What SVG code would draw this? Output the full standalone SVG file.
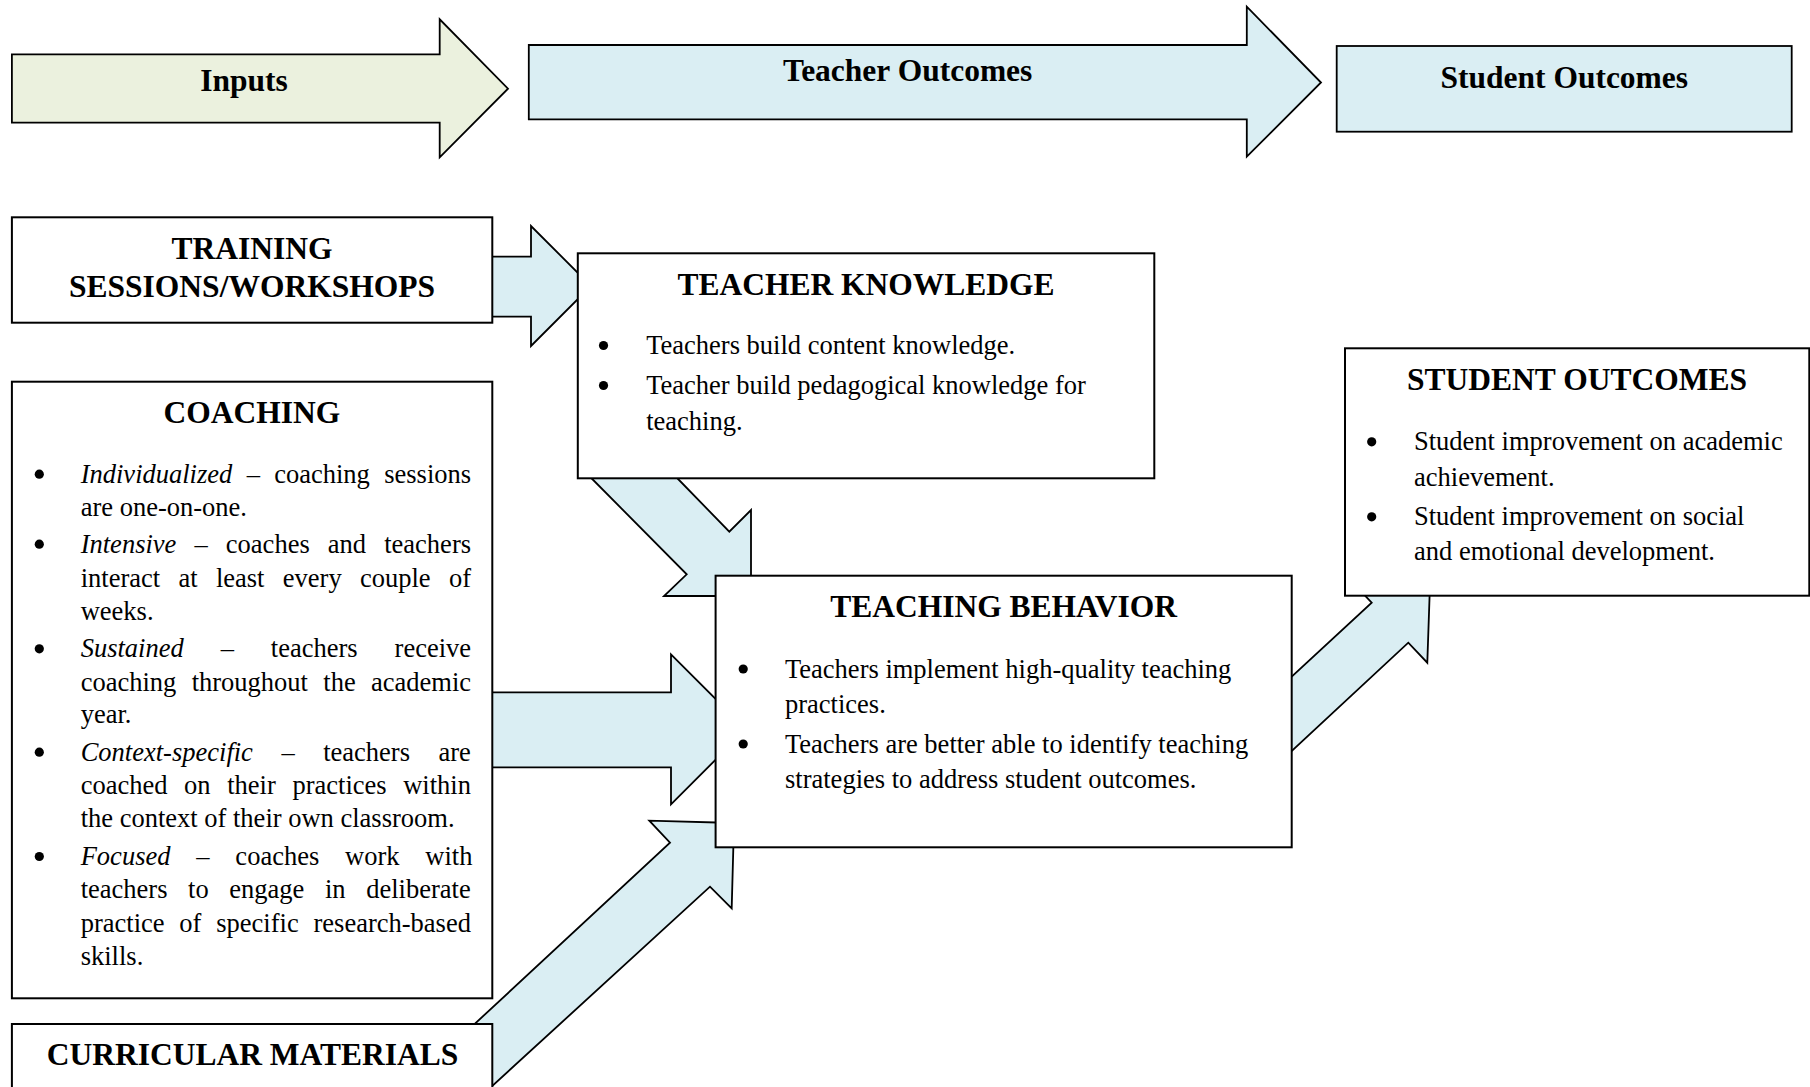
<svg xmlns="http://www.w3.org/2000/svg" width="1810" height="1087" viewBox="0 0 1810 1087">
<style>
.box{fill:#fff;stroke:#000;stroke-width:2}
.hdr{stroke:#000;stroke-width:1.8;stroke-linejoin:miter}
.green{fill:#EBF1DE}
.blue{fill:#DAEEF3}
.conn{fill:#DAEEF3;stroke:#000;stroke-width:1.8;stroke-linejoin:miter}
.t{font-family:"Liberation Serif","Times New Roman",serif;fill:#000}
.title{font-size:31.5px;font-weight:bold;text-anchor:middle}
.body{font-size:26.5px}
.it{font-style:italic}
.dot{fill:#000}
</style>
<defs>
<circle id="b" r="4.6" class="dot"/>
</defs>
<rect width="1810" height="1087" fill="#fff"/>

<g id="connectors">
<polygon class="conn" points="470,256.7 531,256.7 531,226 591,286 531,346 531,316.7 470,316.7"/>
<polygon class="conn" points="584.3,471 686.7,574.3 664,596 751,596 751,510 729.3,531.7 670.3,471"/>
<polygon class="conn" points="470,692.3 671,692.3 671,654.3 746,729.3 671,804.3 671,767.3 470,767.3"/>
<polygon class="conn" points="392.7,1100 670,842.7 649.3,820.7 734,823 731.7,908.3 710,886.7 476.9,1100"/>
<polygon class="conn" points="1271.7,695.2 1371.7,602.7 1352.7,582.7 1430,584 1427.3,662.7 1408.3,642.7 1271.7,769.6"/>
</g>

<g id="inputs-header">
<polygon class="hdr green" points="11.9,54.3 439.7,54.3 439.7,19.3 508,88.7 439.7,157.3 439.7,122.7 11.9,122.7"/>
<text class="t title" x="244" y="90.7">Inputs</text>
</g>

<g id="teacher-outcomes-header">
<polygon class="hdr blue" points="528.8,45 1246.8,45 1246.8,6.7 1321,82.5 1246.8,156.7 1246.8,119.3 528.8,119.3"/>
<text class="t title" x="907.7" y="81">Teacher Outcomes</text>
</g>

<g id="student-outcomes-header">
<rect class="hdr blue" x="1336.7" y="46" width="455" height="85.7"/>
<text class="t title" x="1564.3" y="88">Student Outcomes</text>
</g>

<g id="training">
<rect class="box" x="11.9" y="217.3" width="480.4" height="105.4"/>
<text class="t title" x="252" y="259.3">TRAINING</text>
<text class="t title" x="252" y="297.3">SESSIONS/WORKSHOPS</text>
</g>

<g id="coaching">
<rect class="box" x="11.9" y="381.7" width="480.4" height="616.6"/>
<text class="t title" x="252" y="422.5">COACHING</text>
<use href="#b" x="39.3" y="474.2"/>
<use href="#b" x="39.3" y="544.2"/>
<use href="#b" x="39.3" y="648.8"/>
<use href="#b" x="39.3" y="752.2"/>
<use href="#b" x="39.3" y="856.5"/>
<g class="t body">
<text x="80.7" y="482.7" style="word-spacing:7.7px"><tspan class="it">Individualized</tspan> – coaching sessions</text>
<text x="80.7" y="516">are one-on-one.</text>
<text x="80.7" y="552.7" style="word-spacing:11.5px"><tspan class="it">Intensive</tspan> – coaches and teachers</text>
<text x="80.7" y="586.7" style="word-spacing:11.7px">interact at least every couple of</text>
<text x="80.7" y="620">weeks.</text>
<text x="80.7" y="657.3" style="word-spacing:30.3px"><tspan class="it">Sustained</tspan> – teachers receive</text>
<text x="80.7" y="690.7" style="word-spacing:8.7px">coaching throughout the academic</text>
<text x="80.7" y="722.7">year.</text>
<text x="80.7" y="760.7" style="word-spacing:21.9px"><tspan class="it">Context-specific</tspan> – teachers are</text>
<text x="80.7" y="794" style="word-spacing:10px">coached on their practices within</text>
<text x="80.7" y="827.3">the context of their own classroom.</text>
<text x="80.7" y="865" style="word-spacing:19.2px"><tspan class="it">Focused</tspan> – coaches work with</text>
<text x="80.7" y="898.2" style="word-spacing:14px">teachers to engage in deliberate</text>
<text x="80.7" y="931.5" style="word-spacing:8.2px">practice of specific research-based</text>
<text x="80.7" y="965">skills.</text>
</g>
</g>

<g id="curricular-materials">
<rect class="box" x="11.9" y="1024" width="480.4" height="90"/>
<text class="t title" x="252.5" y="1065">CURRICULAR MATERIALS</text>
</g>

<g id="teacher-knowledge">
<rect class="box" x="577.8" y="253.3" width="576.5" height="225"/>
<text class="t title" x="866" y="294.5">TEACHER KNOWLEDGE</text>
<use href="#b" x="603.5" y="345.5"/>
<use href="#b" x="603.5" y="385.5"/>
<g class="t body">
<text x="646.2" y="354">Teachers build content knowledge.</text>
<text x="646.2" y="394">Teacher build pedagogical knowledge for</text>
<text x="646.2" y="430">teaching.</text>
</g>
</g>

<g id="teaching-behavior">
<rect class="box" x="715.6" y="575.7" width="576.1" height="271.6"/>
<text class="t title" x="1003.6" y="617">TEACHING BEHAVIOR</text>
<use href="#b" x="743.2" y="669"/>
<use href="#b" x="743.2" y="744"/>
<g class="t body">
<text x="785" y="677.5">Teachers implement high-quality teaching</text>
<text x="785" y="712.5">practices.</text>
<text x="785" y="752.5">Teachers are better able to identify teaching</text>
<text x="785" y="787.5">strategies to address student outcomes.</text>
</g>
</g>

<g id="student-outcomes">
<rect class="box" x="1345" y="348.3" width="464.3" height="247.4"/>
<text class="t title" x="1577" y="390">STUDENT OUTCOMES</text>
<use href="#b" x="1371.7" y="441.8"/>
<use href="#b" x="1371.7" y="516.8"/>
<g class="t body">
<text x="1414" y="450.3">Student improvement on academic</text>
<text x="1414" y="486">achievement.</text>
<text x="1414" y="525.3">Student improvement on social</text>
<text x="1414" y="560.3">and emotional development.</text>
</g>
</g>
</svg>
